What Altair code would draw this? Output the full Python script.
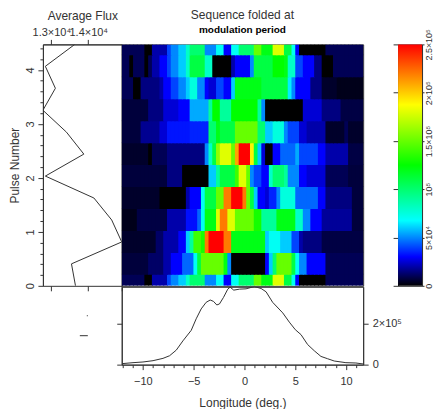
import altair as alt
import pandas as pd

r00 = [1,1,1,1,1,1,0,0,2,2,2,2,4,5,5,6,6,8,10,10,10,10,5,5,5,7,7,3,3,7,7,10,10,10,10,15,15,12,12,12,18,18,18,11,11,7,3,0,0,0,0,0,0,0,1,1,1,1,1,1,1,1,1,1]
r01 = [.7,.7,.7,.7,.7,.7,.7,1.2,1.2,1.2,1.2,2,2,3,3,3,4.5,4.5,4.5,7,11,15,15,15,15,15,15,12,5,0,0,0,0,0,0,0,0,0,3,6,10,15,15,15,15,11,7,5,5,3,3,3,3,3,1,1,1,1,1,1,1,1,1,1]
r02 = [.5,.5,.5,.5,.5,.5,.5,.5,.5,1.2,1.2,2,2,2,2,3,3,6,9,14,14,13,22,25,25,25,25,22,22,12,12,12,12,12,12,12,12,12,6,7,7,7,6,6,6,4,4,2,1.5,1.5,1.5,1.5,1.5,.8,.8,.8,.8,.8,.8,.8,.8,.8,.8,.8]
r03 = [.3,.3,.3,.3,.8,.8,.8,.8,.8,.8,.8,.8,2,2,2,2,2,3.2,3.2,3.2,4.5,7,12,12,12,18,22,22,18,18,15,15,15,15,15,13,13,9,9,9,9,12,12,12,12,12,8,8,5,5,3,3,3,1.8,1.8,1.8,1.8,1.8,1.8,1.8,1.8,.7,.7,.7]
r04 = [.5,.5,.5,.5,.5,.5,.5,.5,.5,.5,0,0,0,0,0,0,0,2,3,3,3,7,11,11,11,15,15,22,22,25,25,25,22,15,11,6,3,3,2.5,3.5,3.5,5,7.5,7.5,7.5,7.5,4.5,4.5,4.5,4.5,4.5,4.5,3,3,1.5,1.5,1.5,1.5,1.5,1.5,1.5,.7,.7,.7]
r05 = [.7,.7,.7,.7,.7,.7,.7,.7,.7,.7,.7,.7,1.5,1.5,1.5,1.5,0,0,0,0,0,0,0,6,6,9,11,11,11,11,14,18,18,15,5,4,4,3,3,8,10,10,10,9,5,5,5,3,3,2.5,2.5,2.5,2.5,2.5,1,1,1,1,1,1,.7,.7,.7,.7]
r06 = [.5,.5,.5,.5,.5,.5,.5,0,1,1,1,1,1.5,1.5,1.5,1.5,1.5,1.5,1.5,1.5,1.5,1.5,5,8,11,16,18,18,18,15,21,25,25,25,19,11,6,2.5,0,0,3,3,4.5,4.5,4.5,4.5,5.5,4,4,4,4,4,3,3,2,2,2,2,2,2,.8,.8,.8,.8]
r07 = [.7,.7,.7,.7,.7,1.7,1.7,1.7,1.7,1.7,2.5,2.5,3.3,3.3,3.3,3.3,3.3,3.3,3.5,3.5,3.5,3.5,3.5,10,10,12,11,11,11,11,15,15,15,15,15,15,10,10,6,6,7.5,7.5,7.5,5,4,4,4,2.5,2.5,2,2,2,2,2,.5,.5,.5,.5,.5,1,.5,.5,.5,.5]
r08 = [.7,.7,.7,.7,.7,.7,.7,1.5,1.5,1.5,1.5,2.5,2.5,2.5,2.5,3,3,3,5.5,5.5,5.5,5.5,5.5,9,12.5,12.5,9,9,9,12.5,12.5,12.5,12.5,12.5,12.5,12.5,9,5,0,0,0,0,0,0,0,0,0,0,2.5,2.5,2.5,2.5,2.5,1.5,1.5,1.5,1.5,1.5,.8,.8,.8,.8,.8,.8]
r09 = [1,1,1,0,0,1.5,1.5,1.5,1.5,1.5,2,3,3,4,4,5,5,6,7.5,7.5,5,5,3,2.5,2.5,4,4,3,3,6,12,12,12,12,12,12,12,11,11,11,11,11,11,11,6.5,5,3,3,3,3,1.5,1.5,1.5,.5,.5,.5,.5,.3,.3,.3,.3,.3,.3,.3]
r10 = [1,1,0,1,1,1,0,1,2,2,3,3,4,5,5,6,6,8,11,11,11,11,8,8,0,0,0,0,0,2,3,3,3,3,5,11,11,11,11,11,12.5,12.5,12.5,12,8,8,4,4,3,3,3,1.5,1.5,0,0,0,1,1,1,1,1,1,1,1]
r11 = r00

pulse_rows = [r00, r01, r02, r03, r04, r05, r06, r07, r08, r09, r10, r11]
pulse_centres = [0, .407, .813, 1.22, 1.627, 2.033, 2.44, 2.847, 3.253, 3.66, 4.067, 4.473]
avg_flux = [13654, 13545, 14907, 14635, 14153, 12837, 13880, 13409, 12771, 13109, 12837, 13635]

profile_lon = [-12.05,-10.97,-9.99,-9.0,-8.02,-7.37,-6.71,-6.06,-5.24,-4.75,-4.26,-3.77,-3.37,-3.05,-2.72,-2.46,-2.06,-1.64,-1.41,-1.05,-0.49,0.16,0.98,1.64,2.13,2.78,3.77,4.42,5.01,5.57,6.22,6.88,7.53,8.18,8.84,9.99,10.97,11.69]
profile_val = [4842,9684,12912,19368,30666,43578,71016,116208,167856,224346,272766,305046,316344,309888,292134,296976,329256,369606,379290,364764,369606,371220,382518,372834,356694,305046,253398,208206,171084,146874,98454,67788,40350,29052,17754,9684,8070,3228]

LON = [-12.08, 11.69]
PULSE = [0, 4.473]
FLUX = [12771, 14907]
PROF = [0, 381000]
FONT = "Liberation Sans"
INK = "#333333"
stops_pos = [0, .12, .27, .5, .75, 1]
stops_col = ["#000000", "#0000ff", "#00ffff", "#00ff00", "#ffff00", "#ff0000"]

col_w = (LON[1] - LON[0]) / 64
row_h = .4067
cells = []
for c, row in zip(pulse_centres, pulse_rows):
    assert len(row) == 64
    for i, v in enumerate(row):
        cells.append(dict(x=LON[0] + i * col_w, x2=LON[0] + (i + 1) * col_w + .1,
                          y=max(0, c - row_h / 2), y2=min(PULSE[1], c + row_h / 2 + .02), v=v * 1e4))
cells = pd.DataFrame(cells)
cscale = alt.Scale(domain=[p * 250000 for p in stops_pos], range=stops_col, clamp=True, interpolate="rgb")

axis_common = dict(domainColor=INK, tickColor=INK, labelColor=INK, titleColor=INK, labelFont=FONT,
                   titleFont=FONT, labelFontSize=11, titleFontSize=12, titleFontWeight="normal",
                   grid=False, tickWidth=1, domainWidth=1)
majmin = lambda major, long, short: {"condition": {"test": major, "value": long}, "value": short}

# heat map
heat = alt.Chart(cells).mark_rect(clip=True).encode(
    x=alt.X("x:Q", scale=alt.Scale(domain=LON, nice=False, zero=False), axis=None),
    x2="x2:Q",
    y=alt.Y("y:Q", scale=alt.Scale(domain=PULSE, nice=False), axis=None),
    y2="y2:Q",
    color=alt.Color("v:Q", scale=cscale, legend=None),
).properties(width=242, height=242,
             title=alt.TitleParams("Sequence folded at", subtitle="modulation period", font=FONT, fontSize=12,
                                   fontWeight="normal", color=INK, subtitleFont=FONT, subtitleFontSize=10,
                                   subtitleFontWeight="bold", subtitleColor="#000000", subtitlePadding=3,
                                   anchor="middle", offset=8))

# average flux
flux_df = pd.DataFrame(dict(p=pulse_centres, f=avg_flux))
y_vals = [i * .2 for i in range(23)]
left_y = alt.Y("p:Q", scale=alt.Scale(domain=PULSE, nice=False),
               axis=alt.Axis(values=y_vals, title="Pulse Number", labelAngle=-90, labelAlign="center", labelBaseline="bottom",
                             labelExpr="abs(datum.value-round(datum.value))<.01?round(datum.value):''", titlePadding=3,
                             tickSize=majmin("abs(datum.value-round(datum.value))<.01", 5, 3), labelOverlap=False, **axis_common))
left_line = alt.Chart(flux_df).mark_line(color=INK, strokeWidth=1, clip=True).encode(
    x=alt.X("f:Q", scale=alt.Scale(domain=FLUX, nice=False, zero=False),
            axis=alt.Axis(orient="top", values=[13000, 14000], title="Average Flux", tickSize=5, titlePadding=4,
                          labelExpr="datum.value==13000?'1.3×10⁴':'1.4×10⁴'", labelOverlap=False, **axis_common)),
    y=left_y,
    order="p:Q",
)
left_low = alt.Chart(flux_df).mark_point(opacity=0).encode(
    x=alt.X("f:Q", scale=alt.Scale(domain=FLUX, nice=False, zero=False),
            axis=alt.Axis(orient="bottom", values=[13000, 14000, 14907], labels=False, title=None, tickSize=5, domain=False,
                          **axis_common)),
    y=left_y,
)
left = alt.layer(left_line, left_low).resolve_scale(x="independent").properties(width=79, height=242)

# profile
prof_df = pd.DataFrame(dict(lon=profile_lon, val=profile_val))
lon_vals = list(range(-12, 12))
prof_x = alt.X("lon:Q", scale=alt.Scale(domain=LON, nice=False, zero=False),
               axis=alt.Axis(values=lon_vals, title="Longitude (deg.)", titlePadding=11, labelPadding=6, labelOverlap=False, format="d",
                             labelExpr="datum.value%5==0?(datum.value<0?'−':'')+abs(datum.value):''",
                             tickSize=majmin("datum.value%5==0", 5, 3), **axis_common))
prof_line = alt.Chart(prof_df).mark_line(color=INK, strokeWidth=1, clip=True).encode(
    x=prof_x,
    y=alt.Y("val:Q", scale=alt.Scale(domain=PROF, nice=False),
            axis=alt.Axis(orient="right", values=[0, 200000], title=None, tickSize=5, labelPadding=4,
                          labelExpr="datum.value==0?'0':'2×10⁵'", **axis_common)),
)
prof_left = alt.Chart(prof_df).mark_point(opacity=0).encode(
    x=prof_x,
    y=alt.Y("val:Q", scale=alt.Scale(domain=PROF, nice=False),
            axis=alt.Axis(orient="left", values=[0, 200000], labels=False, title=None, tickSize=5, **axis_common)),
)
prof = alt.layer(prof_line, prof_left).resolve_scale(y="independent").properties(width=242, height=78)

# stray marks bottom left
stray = pd.DataFrame(dict(a=[37, 44], c=[45, 45], d=[29, 49]))
mini = alt.Chart(stray).mark_rule(color=INK, strokeWidth=1).encode(
    x=alt.X("a:Q", scale=alt.Scale(domain=[0, 79], nice=False), axis=None),
    x2="c:Q",
    y=alt.Y("d:Q", scale=alt.Scale(domain=[0, 78], nice=False), axis=None),
).properties(width=79, height=78, view=alt.ViewConfig(stroke=None))

# colour bar
bar_df = pd.DataFrame(dict(a=[0], b=[250000], l=[0], r=[1]))
bar_grad = alt.LinearGradient(gradient="linear", x1=0, x2=0, y1=1, y2=0,
                              stops=[alt.GradientStop(offset=p, color=c) for p, c in zip(stops_pos, stops_col)])
bar_vals = [0, 50000, 100000, 150000, 200000, 250000]
bar_axis = dict(axis_common, labelFontSize=9)
bar_rect = alt.Chart(bar_df).mark_rect(fill=bar_grad).encode(
    x=alt.X("l:Q", scale=alt.Scale(domain=[0, 1], nice=False), axis=None),
    x2="r:Q",
    y=alt.Y("a:Q", scale=alt.Scale(domain=[0, 250000], nice=False),
            axis=alt.Axis(orient="right", values=bar_vals, title=None, tickSize=2, labelAngle=-90, labelAlign="center",
                          labelBaseline="top", labelPadding=0, labelOverlap=False, labelBound=False, labelFlush=False,
                          labelExpr="{'0':'0','50000':'5×10⁴','100000':'10⁵','150000':'1.5×10⁵','200000':'2×10⁵','250000':'2.5×10⁵'}[''+datum.value]",
                          **bar_axis)),
    y2="b:Q",
)
bar_left = alt.Chart(bar_df).mark_point(opacity=0).encode(
    x=alt.X("l:Q", scale=alt.Scale(domain=[0, 1], nice=False), axis=None),
    y=alt.Y("a:Q", scale=alt.Scale(domain=[0, 250000], nice=False),
            axis=alt.Axis(orient="left", values=bar_vals, labels=False, title=None, tickSize=5, **axis_common)),
)
bar = alt.layer(bar_rect, bar_left).resolve_scale(y="independent").properties(width=24, height=242)


def blank(w, h):
    return alt.Chart(bar_df).mark_point(opacity=0).encode(
        x=alt.X("l:Q", axis=None), y=alt.Y("a:Q", axis=None)
    ).properties(width=w, height=h, view=alt.ViewConfig(stroke=None))


chart = alt.concat(left, heat, blank(35, 242), bar,
                   mini, prof, blank(35, 78), blank(24, 78),
                   columns=4, spacing=alt.RowColnumber(row=1, column=0), bounds="flush", align="each").properties(
    padding=dict(left=0, top=0, right=0, bottom=0),
    background="#ffffff",
).configure_view(stroke=INK, strokeWidth=1)

chart.save("out.html", embed_options={"renderer": "svg", "actions": False})
